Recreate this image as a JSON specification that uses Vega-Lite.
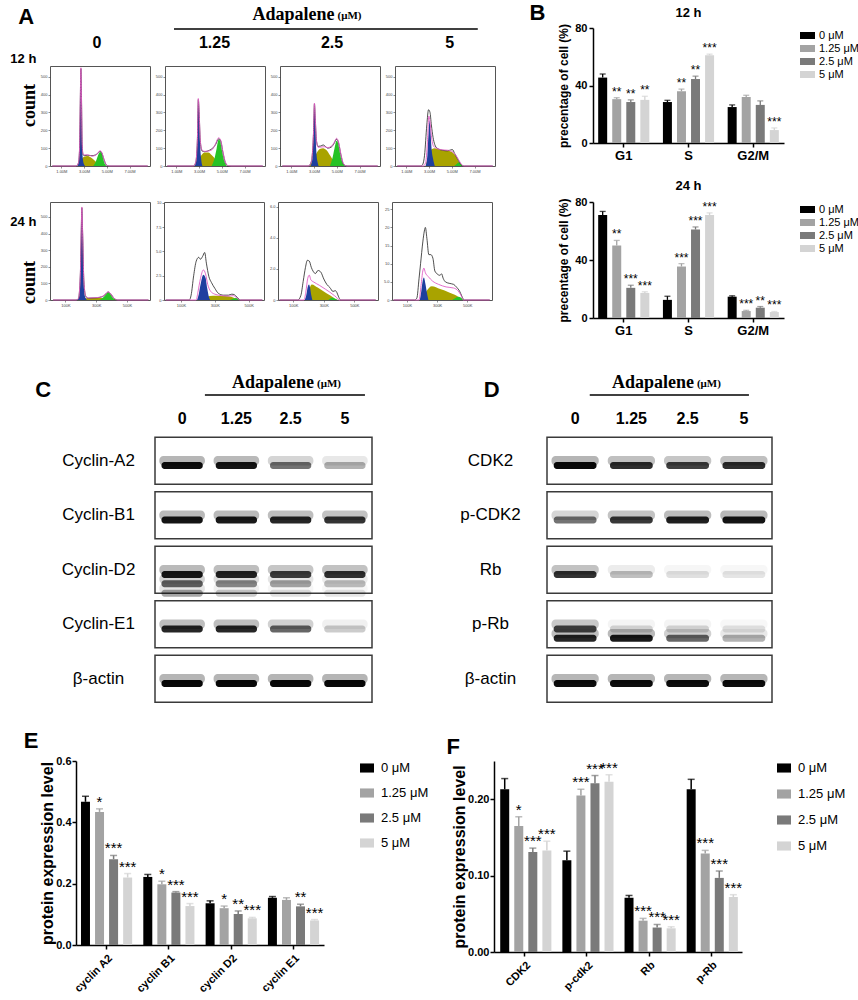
{
  "$schema": "https://vega.github.io/schema/vega-lite/v6.json",
  "background": "white",
  "padding": {"left": 2, "top": 2, "right": 0, "bottom": 0},
  "config": {
    "font": "Liberation Sans",
    "view": {"stroke": null},
    "axis": {"grid": false, "domainColor": "#000", "tickColor": "#000", "labelColor": "#000", "titleColor": "#000", "labelFont": "Liberation Sans", "titleFont": "Liberation Sans", "labelOverlap": false},
    "legend": {"labelColor": "#000", "labelFont": "Liberation Sans"},
    "title": {"color": "#000", "font": "Liberation Sans"},
    "text": {"font": "Liberation Sans", "color": "#000"}
  },
  "datasets": {
    "hdrA": [
      {"k": "letter", "part": "title", "lane": "0", "text": "A"},
      {"k": "letterB", "part": "title", "lane": "5", "text": "B"},
      {"k": "lane", "part": "lanes", "lane": "0", "text": "0"},
      {"k": "lane", "part": "lanes", "lane": "1.25", "text": "1.25"},
      {"k": "lane", "part": "lanes", "lane": "2.5", "text": "2.5"},
      {"k": "lane", "part": "lanes", "lane": "5", "text": "5"},
      {"k": "name", "part": "title", "lane": "2.5", "text": "Adapalene"},
      {"k": "unit", "part": "title", "lane": "2.5", "text": "(μM)"},
      {"k": "rule", "part": "line", "lane": "1.25", "lane2": "5"}
    ],
    "hdrB": [
      {"k": "t", "part": "title", "g": "S", "text": "12 h"}
    ],
    "hdr": [
      {"k": "lane", "row": "hdr", "lane": "0", "text": "0"},
      {"k": "lane", "row": "hdr", "lane": "1.25", "text": "1.25"},
      {"k": "lane", "row": "hdr", "lane": "2.5", "text": "2.5"},
      {"k": "lane", "row": "hdr", "lane": "5", "text": "5"},
      {"k": "name", "row": "hdr", "lane": "2.5", "text": "Adapalene"},
      {"k": "unit", "row": "hdr", "lane": "2.5", "text": "(μM)"},
      {"k": "rule", "row": "hdr", "lane": "0", "lane2": "5"}
    ],
    "framesC": [{"row": "Cyclin-A2"}, {"row": "Cyclin-B1"}, {"row": "Cyclin-D2"}, {"row": "Cyclin-E1"}, {"row": "β-actin"}],
    "framesD": [{"row": "CDK2"}, {"row": "p-CDK2"}, {"row": "Rb"}, {"row": "p-Rb"}, {"row": "β-actin"}],
    "blotC": [
      {"row": "Cyclin-A2", "lane": "0", "sub": "s3", "i": 0.95},
      {"row": "Cyclin-A2", "lane": "1.25", "sub": "s3", "i": 0.92},
      {"row": "Cyclin-A2", "lane": "2.5", "sub": "s3", "i": 0.55},
      {"row": "Cyclin-A2", "lane": "5", "sub": "s3", "i": 0.3},
      {"row": "Cyclin-B1", "lane": "0", "sub": "s3", "i": 0.92},
      {"row": "Cyclin-B1", "lane": "1.25", "sub": "s3", "i": 0.9},
      {"row": "Cyclin-B1", "lane": "2.5", "sub": "s3", "i": 0.85},
      {"row": "Cyclin-B1", "lane": "5", "sub": "s3", "i": 0.8},
      {"row": "Cyclin-D2", "lane": "0", "sub": "s3", "i": 0.9},
      {"row": "Cyclin-D2", "lane": "1.25", "sub": "s3", "i": 0.85},
      {"row": "Cyclin-D2", "lane": "2.5", "sub": "s3", "i": 0.75},
      {"row": "Cyclin-D2", "lane": "5", "sub": "s3", "i": 0.8},
      {"row": "Cyclin-D2", "lane": "0", "sub": "s4", "i": 0.6},
      {"row": "Cyclin-D2", "lane": "1.25", "sub": "s4", "i": 0.45},
      {"row": "Cyclin-D2", "lane": "2.5", "sub": "s4", "i": 0.35},
      {"row": "Cyclin-D2", "lane": "5", "sub": "s4", "i": 0.25},
      {"row": "Cyclin-D2", "lane": "0", "sub": "s5", "i": 0.35},
      {"row": "Cyclin-D2", "lane": "1.25", "sub": "s5", "i": 0.2},
      {"row": "Cyclin-D2", "lane": "2.5", "sub": "s5", "i": 0.12},
      {"row": "Cyclin-D2", "lane": "5", "sub": "s5", "i": 0.1},
      {"row": "Cyclin-E1", "lane": "0", "sub": "s3", "i": 0.85},
      {"row": "Cyclin-E1", "lane": "1.25", "sub": "s3", "i": 0.85},
      {"row": "Cyclin-E1", "lane": "2.5", "sub": "s3", "i": 0.6},
      {"row": "Cyclin-E1", "lane": "5", "sub": "s3", "i": 0.2},
      {"row": "β-actin", "lane": "0", "sub": "s3", "i": 0.97},
      {"row": "β-actin", "lane": "1.25", "sub": "s3", "i": 0.97},
      {"row": "β-actin", "lane": "2.5", "sub": "s3", "i": 0.97},
      {"row": "β-actin", "lane": "5", "sub": "s3", "i": 0.97}
    ],
    "blotD": [
      {"row": "CDK2", "lane": "0", "sub": "s3", "i": 0.97},
      {"row": "CDK2", "lane": "1.25", "sub": "s3", "i": 0.82},
      {"row": "CDK2", "lane": "2.5", "sub": "s3", "i": 0.75},
      {"row": "CDK2", "lane": "5", "sub": "s3", "i": 0.82},
      {"row": "p-CDK2", "lane": "0", "sub": "s3", "i": 0.55},
      {"row": "p-CDK2", "lane": "1.25", "sub": "s3", "i": 0.78},
      {"row": "p-CDK2", "lane": "2.5", "sub": "s3", "i": 0.88},
      {"row": "p-CDK2", "lane": "5", "sub": "s3", "i": 0.92},
      {"row": "Rb", "lane": "0", "sub": "s3", "i": 0.8},
      {"row": "Rb", "lane": "1.25", "sub": "s3", "i": 0.25},
      {"row": "Rb", "lane": "2.5", "sub": "s3", "i": 0.12},
      {"row": "Rb", "lane": "5", "sub": "s3", "i": 0.1},
      {"row": "p-Rb", "lane": "0", "sub": "s3", "i": 0.7},
      {"row": "p-Rb", "lane": "1.25", "sub": "s3", "i": 0.15},
      {"row": "p-Rb", "lane": "2.5", "sub": "s3", "i": 0.15},
      {"row": "p-Rb", "lane": "5", "sub": "s3", "i": 0.1},
      {"row": "p-Rb", "lane": "0", "sub": "s4", "i": 0.85},
      {"row": "p-Rb", "lane": "1.25", "sub": "s4", "i": 0.9},
      {"row": "p-Rb", "lane": "2.5", "sub": "s4", "i": 0.6},
      {"row": "p-Rb", "lane": "5", "sub": "s4", "i": 0.3},
      {"row": "β-actin", "lane": "0", "sub": "s3", "i": 0.95},
      {"row": "β-actin", "lane": "1.25", "sub": "s3", "i": 0.95},
      {"row": "β-actin", "lane": "2.5", "sub": "s3", "i": 0.95},
      {"row": "β-actin", "lane": "5", "sub": "s3", "i": 0.95}
    ],
    "bars": [
      {"t": "12 h", "g": "G1", "d": "0 μM", "v": 45.5, "hi": 48, "sig": ""},
      {"t": "12 h", "g": "G1", "d": "1.25 μM", "v": 30.5, "hi": 31.5, "sig": "**"},
      {"t": "12 h", "g": "G1", "d": "2.5 μM", "v": 28.5, "hi": 30, "sig": "**"},
      {"t": "12 h", "g": "G1", "d": "5 μM", "v": 30, "hi": 32.5, "sig": "**"},
      {"t": "12 h", "g": "S", "d": "0 μM", "v": 28.5, "hi": 29.7, "sig": ""},
      {"t": "12 h", "g": "S", "d": "1.25 μM", "v": 36, "hi": 37.5, "sig": "**"},
      {"t": "12 h", "g": "S", "d": "2.5 μM", "v": 44.5, "hi": 46.5, "sig": "**"},
      {"t": "12 h", "g": "S", "d": "5 μM", "v": 61, "hi": 61.8, "sig": "***"},
      {"t": "12 h", "g": "G2/M", "d": "0 μM", "v": 25, "hi": 26.5, "sig": ""},
      {"t": "12 h", "g": "G2/M", "d": "1.25 μM", "v": 32, "hi": 33.2, "sig": ""},
      {"t": "12 h", "g": "G2/M", "d": "2.5 μM", "v": 26.5, "hi": 29.3, "sig": ""},
      {"t": "12 h", "g": "G2/M", "d": "5 μM", "v": 9, "hi": 10.5, "sig": "***"},
      {"t": "24 h", "g": "G1", "d": "0 μM", "v": 71, "hi": 73.5, "sig": ""},
      {"t": "24 h", "g": "G1", "d": "1.25 μM", "v": 50, "hi": 53.5, "sig": "**"},
      {"t": "24 h", "g": "G1", "d": "2.5 μM", "v": 20.8, "hi": 22.6, "sig": "***"},
      {"t": "24 h", "g": "G1", "d": "5 μM", "v": 17.3, "hi": 18.1, "sig": "***"},
      {"t": "24 h", "g": "S", "d": "0 μM", "v": 12.5, "hi": 15, "sig": ""},
      {"t": "24 h", "g": "S", "d": "1.25 μM", "v": 35.5, "hi": 37.5, "sig": "***"},
      {"t": "24 h", "g": "S", "d": "2.5 μM", "v": 61, "hi": 62.8, "sig": "***"},
      {"t": "24 h", "g": "S", "d": "5 μM", "v": 71, "hi": 72.5, "sig": "***"},
      {"t": "24 h", "g": "G2/M", "d": "0 μM", "v": 14.7, "hi": 15.3, "sig": ""},
      {"t": "24 h", "g": "G2/M", "d": "1.25 μM", "v": 4.8, "hi": 5.3, "sig": "***"},
      {"t": "24 h", "g": "G2/M", "d": "2.5 μM", "v": 7.1, "hi": 7.9, "sig": "**"},
      {"t": "24 h", "g": "G2/M", "d": "5 μM", "v": 4.1, "hi": 4.5, "sig": "***"}
    ],
    "e": [
      {"g": "cyclin A2", "d": "0 μM", "v": 0.467, "hi": 0.485, "sig": ""},
      {"g": "cyclin A2", "d": "1.25 μM", "v": 0.434, "hi": 0.444, "sig": "*"},
      {"g": "cyclin A2", "d": "2.5 μM", "v": 0.28, "hi": 0.292, "sig": "***"},
      {"g": "cyclin A2", "d": "5 μM", "v": 0.22, "hi": 0.233, "sig": "***"},
      {"g": "cyclin B1", "d": "0 μM", "v": 0.222, "hi": 0.23, "sig": ""},
      {"g": "cyclin B1", "d": "1.25 μM", "v": 0.198, "hi": 0.208, "sig": "*"},
      {"g": "cyclin B1", "d": "2.5 μM", "v": 0.171, "hi": 0.174, "sig": "***"},
      {"g": "cyclin B1", "d": "5 μM", "v": 0.127, "hi": 0.135, "sig": "***"},
      {"g": "cyclin D2", "d": "0 μM", "v": 0.136, "hi": 0.144, "sig": ""},
      {"g": "cyclin D2", "d": "1.25 μM", "v": 0.12, "hi": 0.127, "sig": "*"},
      {"g": "cyclin D2", "d": "2.5 μM", "v": 0.101, "hi": 0.111, "sig": "**"},
      {"g": "cyclin D2", "d": "5 μM", "v": 0.087, "hi": 0.09, "sig": "***"},
      {"g": "cyclin E1", "d": "0 μM", "v": 0.154, "hi": 0.158, "sig": ""},
      {"g": "cyclin E1", "d": "1.25 μM", "v": 0.147, "hi": 0.154, "sig": ""},
      {"g": "cyclin E1", "d": "2.5 μM", "v": 0.126, "hi": 0.133, "sig": "**"},
      {"g": "cyclin E1", "d": "5 μM", "v": 0.08, "hi": 0.083, "sig": "***"}
    ],
    "f": [
      {"g": "CDK2", "d": "0 μM", "v": 0.213, "hi": 0.227, "sig": ""},
      {"g": "CDK2", "d": "1.25 μM", "v": 0.165, "hi": 0.177, "sig": "*"},
      {"g": "CDK2", "d": "2.5 μM", "v": 0.131, "hi": 0.136, "sig": "***"},
      {"g": "CDK2", "d": "5 μM", "v": 0.133, "hi": 0.145, "sig": "***"},
      {"g": "p-cdk2", "d": "0 μM", "v": 0.12, "hi": 0.132, "sig": ""},
      {"g": "p-cdk2", "d": "1.25 μM", "v": 0.205, "hi": 0.213, "sig": "***"},
      {"g": "p-cdk2", "d": "2.5 μM", "v": 0.221, "hi": 0.231, "sig": "***"},
      {"g": "p-cdk2", "d": "5 μM", "v": 0.223, "hi": 0.232, "sig": "***"},
      {"g": "Rb", "d": "0 μM", "v": 0.071, "hi": 0.074, "sig": ""},
      {"g": "Rb", "d": "1.25 μM", "v": 0.041, "hi": 0.044, "sig": "***"},
      {"g": "Rb", "d": "2.5 μM", "v": 0.032, "hi": 0.036, "sig": "***"},
      {"g": "Rb", "d": "5 μM", "v": 0.031, "hi": 0.033, "sig": "***"},
      {"g": "p-Rb", "d": "0 μM", "v": 0.213, "hi": 0.226, "sig": ""},
      {"g": "p-Rb", "d": "1.25 μM", "v": 0.129, "hi": 0.133, "sig": "***"},
      {"g": "p-Rb", "d": "2.5 μM", "v": 0.097, "hi": 0.106, "sig": "***"},
      {"g": "p-Rb", "d": "5 μM", "v": 0.072, "hi": 0.075, "sig": "***"}
    ],
    "hist": [
      {"p": "a1", "s": "olive", "x": 2.45, "y": 0}, {"p": "a1", "s": "olive", "x": 2.7, "y": 30}, {"p": "a1", "s": "olive", "x": 3.0, "y": 52}, {"p": "a1", "s": "olive", "x": 3.3, "y": 56}, {"p": "a1", "s": "olive", "x": 3.6, "y": 48}, {"p": "a1", "s": "olive", "x": 3.9, "y": 32}, {"p": "a1", "s": "olive", "x": 4.2, "y": 14}, {"p": "a1", "s": "olive", "x": 4.5, "y": 3}, {"p": "a1", "s": "olive", "x": 4.7, "y": 0},
      {"p": "a1", "s": "blue", "x": 2.4, "y": 0}, {"p": "a1", "s": "blue", "x": 2.52, "y": 15}, {"p": "a1", "s": "blue", "x": 2.6, "y": 90}, {"p": "a1", "s": "blue", "x": 2.66, "y": 330}, {"p": "a1", "s": "blue", "x": 2.72, "y": 540}, {"p": "a1", "s": "blue", "x": 2.77, "y": 380}, {"p": "a1", "s": "blue", "x": 2.83, "y": 110}, {"p": "a1", "s": "blue", "x": 2.9, "y": 35}, {"p": "a1", "s": "blue", "x": 3.0, "y": 8}, {"p": "a1", "s": "blue", "x": 3.1, "y": 0},
      {"p": "a1", "s": "green", "x": 3.8, "y": 0}, {"p": "a1", "s": "green", "x": 4.0, "y": 20}, {"p": "a1", "s": "green", "x": 4.2, "y": 55}, {"p": "a1", "s": "green", "x": 4.4, "y": 78}, {"p": "a1", "s": "green", "x": 4.55, "y": 70}, {"p": "a1", "s": "green", "x": 4.7, "y": 35}, {"p": "a1", "s": "green", "x": 4.85, "y": 8}, {"p": "a1", "s": "green", "x": 5.0, "y": 0},
      {"p": "a1", "s": "black", "x": 0.2, "y": 0}, {"p": "a1", "s": "black", "x": 2.3, "y": 0}, {"p": "a1", "s": "black", "x": 2.5, "y": 15}, {"p": "a1", "s": "black", "x": 2.6, "y": 90}, {"p": "a1", "s": "black", "x": 2.66, "y": 335}, {"p": "a1", "s": "black", "x": 2.72, "y": 545}, {"p": "a1", "s": "black", "x": 2.77, "y": 385}, {"p": "a1", "s": "black", "x": 2.83, "y": 120}, {"p": "a1", "s": "black", "x": 2.9, "y": 66}, {"p": "a1", "s": "black", "x": 3.0, "y": 58}, {"p": "a1", "s": "black", "x": 3.3, "y": 60}, {"p": "a1", "s": "black", "x": 3.7, "y": 58}, {"p": "a1", "s": "black", "x": 4.0, "y": 62}, {"p": "a1", "s": "black", "x": 4.2, "y": 70}, {"p": "a1", "s": "black", "x": 4.4, "y": 82}, {"p": "a1", "s": "black", "x": 4.55, "y": 74}, {"p": "a1", "s": "black", "x": 4.75, "y": 36}, {"p": "a1", "s": "black", "x": 4.95, "y": 6}, {"p": "a1", "s": "black", "x": 5.2, "y": 0}, {"p": "a1", "s": "black", "x": 8.6, "y": 0},
      {"p": "a1", "s": "pink", "x": 0.2, "y": 0}, {"p": "a1", "s": "pink", "x": 2.3, "y": 0}, {"p": "a1", "s": "pink", "x": 2.5, "y": 18}, {"p": "a1", "s": "pink", "x": 2.6, "y": 95}, {"p": "a1", "s": "pink", "x": 2.66, "y": 340}, {"p": "a1", "s": "pink", "x": 2.72, "y": 550}, {"p": "a1", "s": "pink", "x": 2.77, "y": 390}, {"p": "a1", "s": "pink", "x": 2.83, "y": 125}, {"p": "a1", "s": "pink", "x": 2.9, "y": 70}, {"p": "a1", "s": "pink", "x": 3.0, "y": 62}, {"p": "a1", "s": "pink", "x": 3.3, "y": 63}, {"p": "a1", "s": "pink", "x": 3.7, "y": 55}, {"p": "a1", "s": "pink", "x": 4.0, "y": 60}, {"p": "a1", "s": "pink", "x": 4.2, "y": 73}, {"p": "a1", "s": "pink", "x": 4.4, "y": 86}, {"p": "a1", "s": "pink", "x": 4.55, "y": 77}, {"p": "a1", "s": "pink", "x": 4.75, "y": 38}, {"p": "a1", "s": "pink", "x": 4.95, "y": 8}, {"p": "a1", "s": "pink", "x": 5.2, "y": 0}, {"p": "a1", "s": "pink", "x": 8.6, "y": 0},

      {"p": "a2", "s": "olive", "x": 2.6, "y": 0}, {"p": "a2", "s": "olive", "x": 2.9, "y": 25}, {"p": "a2", "s": "olive", "x": 3.2, "y": 60}, {"p": "a2", "s": "olive", "x": 3.5, "y": 76}, {"p": "a2", "s": "olive", "x": 3.8, "y": 76}, {"p": "a2", "s": "olive", "x": 4.1, "y": 62}, {"p": "a2", "s": "olive", "x": 4.4, "y": 40}, {"p": "a2", "s": "olive", "x": 4.7, "y": 15}, {"p": "a2", "s": "olive", "x": 5.0, "y": 0},
      {"p": "a2", "s": "blue", "x": 2.6, "y": 0}, {"p": "a2", "s": "blue", "x": 2.75, "y": 30}, {"p": "a2", "s": "blue", "x": 2.85, "y": 150}, {"p": "a2", "s": "blue", "x": 2.93, "y": 370}, {"p": "a2", "s": "blue", "x": 3.0, "y": 300}, {"p": "a2", "s": "blue", "x": 3.08, "y": 130}, {"p": "a2", "s": "blue", "x": 3.18, "y": 40}, {"p": "a2", "s": "blue", "x": 3.3, "y": 0},
      {"p": "a2", "s": "green", "x": 4.1, "y": 0}, {"p": "a2", "s": "green", "x": 4.35, "y": 40}, {"p": "a2", "s": "green", "x": 4.55, "y": 100}, {"p": "a2", "s": "green", "x": 4.72, "y": 148}, {"p": "a2", "s": "green", "x": 4.85, "y": 140}, {"p": "a2", "s": "green", "x": 5.0, "y": 90}, {"p": "a2", "s": "green", "x": 5.2, "y": 30}, {"p": "a2", "s": "green", "x": 5.45, "y": 0},
      {"p": "a2", "s": "black", "x": 0.2, "y": 0}, {"p": "a2", "s": "black", "x": 2.5, "y": 0}, {"p": "a2", "s": "black", "x": 2.7, "y": 18}, {"p": "a2", "s": "black", "x": 2.85, "y": 145}, {"p": "a2", "s": "black", "x": 2.93, "y": 372}, {"p": "a2", "s": "black", "x": 3.0, "y": 305}, {"p": "a2", "s": "black", "x": 3.1, "y": 145}, {"p": "a2", "s": "black", "x": 3.25, "y": 85}, {"p": "a2", "s": "black", "x": 3.5, "y": 80}, {"p": "a2", "s": "black", "x": 3.9, "y": 88}, {"p": "a2", "s": "black", "x": 4.2, "y": 100}, {"p": "a2", "s": "black", "x": 4.45, "y": 120}, {"p": "a2", "s": "black", "x": 4.72, "y": 152}, {"p": "a2", "s": "black", "x": 4.9, "y": 140}, {"p": "a2", "s": "black", "x": 5.1, "y": 75}, {"p": "a2", "s": "black", "x": 5.3, "y": 20}, {"p": "a2", "s": "black", "x": 5.55, "y": 0}, {"p": "a2", "s": "black", "x": 8.6, "y": 0},
      {"p": "a2", "s": "pink", "x": 0.2, "y": 0}, {"p": "a2", "s": "pink", "x": 2.5, "y": 0}, {"p": "a2", "s": "pink", "x": 2.7, "y": 20}, {"p": "a2", "s": "pink", "x": 2.85, "y": 150}, {"p": "a2", "s": "pink", "x": 2.93, "y": 378}, {"p": "a2", "s": "pink", "x": 3.0, "y": 310}, {"p": "a2", "s": "pink", "x": 3.1, "y": 150}, {"p": "a2", "s": "pink", "x": 3.25, "y": 90}, {"p": "a2", "s": "pink", "x": 3.5, "y": 82}, {"p": "a2", "s": "pink", "x": 3.9, "y": 85}, {"p": "a2", "s": "pink", "x": 4.2, "y": 95}, {"p": "a2", "s": "pink", "x": 4.45, "y": 125}, {"p": "a2", "s": "pink", "x": 4.72, "y": 158}, {"p": "a2", "s": "pink", "x": 4.9, "y": 145}, {"p": "a2", "s": "pink", "x": 5.1, "y": 80}, {"p": "a2", "s": "pink", "x": 5.3, "y": 25}, {"p": "a2", "s": "pink", "x": 5.55, "y": 2}, {"p": "a2", "s": "pink", "x": 5.8, "y": 0}, {"p": "a2", "s": "pink", "x": 8.6, "y": 0},

      {"p": "a3", "s": "olive", "x": 2.6, "y": 0}, {"p": "a3", "s": "olive", "x": 2.9, "y": 30}, {"p": "a3", "s": "olive", "x": 3.2, "y": 70}, {"p": "a3", "s": "olive", "x": 3.5, "y": 95}, {"p": "a3", "s": "olive", "x": 3.8, "y": 100}, {"p": "a3", "s": "olive", "x": 4.1, "y": 88}, {"p": "a3", "s": "olive", "x": 4.4, "y": 60}, {"p": "a3", "s": "olive", "x": 4.7, "y": 30}, {"p": "a3", "s": "olive", "x": 5.0, "y": 8}, {"p": "a3", "s": "olive", "x": 5.2, "y": 0},
      {"p": "a3", "s": "blue", "x": 2.7, "y": 0}, {"p": "a3", "s": "blue", "x": 2.85, "y": 40}, {"p": "a3", "s": "blue", "x": 2.95, "y": 180}, {"p": "a3", "s": "blue", "x": 3.03, "y": 345}, {"p": "a3", "s": "blue", "x": 3.1, "y": 260}, {"p": "a3", "s": "blue", "x": 3.18, "y": 100}, {"p": "a3", "s": "blue", "x": 3.3, "y": 25}, {"p": "a3", "s": "blue", "x": 3.4, "y": 0},
      {"p": "a3", "s": "green", "x": 4.4, "y": 0}, {"p": "a3", "s": "green", "x": 4.6, "y": 40}, {"p": "a3", "s": "green", "x": 4.8, "y": 100}, {"p": "a3", "s": "green", "x": 4.98, "y": 142}, {"p": "a3", "s": "green", "x": 5.1, "y": 130}, {"p": "a3", "s": "green", "x": 5.25, "y": 80}, {"p": "a3", "s": "green", "x": 5.45, "y": 25}, {"p": "a3", "s": "green", "x": 5.7, "y": 0},
      {"p": "a3", "s": "black", "x": 0.2, "y": 0}, {"p": "a3", "s": "black", "x": 2.5, "y": 0}, {"p": "a3", "s": "black", "x": 2.75, "y": 22}, {"p": "a3", "s": "black", "x": 2.95, "y": 185}, {"p": "a3", "s": "black", "x": 3.03, "y": 348}, {"p": "a3", "s": "black", "x": 3.1, "y": 270}, {"p": "a3", "s": "black", "x": 3.2, "y": 145}, {"p": "a3", "s": "black", "x": 3.35, "y": 110}, {"p": "a3", "s": "black", "x": 3.6, "y": 112}, {"p": "a3", "s": "black", "x": 3.8, "y": 118}, {"p": "a3", "s": "black", "x": 3.95, "y": 112}, {"p": "a3", "s": "black", "x": 4.2, "y": 100}, {"p": "a3", "s": "black", "x": 4.5, "y": 105}, {"p": "a3", "s": "black", "x": 4.75, "y": 125}, {"p": "a3", "s": "black", "x": 4.98, "y": 150}, {"p": "a3", "s": "black", "x": 5.15, "y": 130}, {"p": "a3", "s": "black", "x": 5.35, "y": 65}, {"p": "a3", "s": "black", "x": 5.6, "y": 8}, {"p": "a3", "s": "black", "x": 5.9, "y": 0}, {"p": "a3", "s": "black", "x": 8.6, "y": 0},
      {"p": "a3", "s": "pink", "x": 0.2, "y": 0}, {"p": "a3", "s": "pink", "x": 2.5, "y": 0}, {"p": "a3", "s": "pink", "x": 2.75, "y": 25}, {"p": "a3", "s": "pink", "x": 2.95, "y": 190}, {"p": "a3", "s": "pink", "x": 3.03, "y": 352}, {"p": "a3", "s": "pink", "x": 3.1, "y": 275}, {"p": "a3", "s": "pink", "x": 3.2, "y": 150}, {"p": "a3", "s": "pink", "x": 3.35, "y": 105}, {"p": "a3", "s": "pink", "x": 3.6, "y": 106}, {"p": "a3", "s": "pink", "x": 3.9, "y": 108}, {"p": "a3", "s": "pink", "x": 4.2, "y": 103}, {"p": "a3", "s": "pink", "x": 4.5, "y": 110}, {"p": "a3", "s": "pink", "x": 4.75, "y": 130}, {"p": "a3", "s": "pink", "x": 4.98, "y": 155}, {"p": "a3", "s": "pink", "x": 5.15, "y": 135}, {"p": "a3", "s": "pink", "x": 5.35, "y": 70}, {"p": "a3", "s": "pink", "x": 5.6, "y": 12}, {"p": "a3", "s": "pink", "x": 5.9, "y": 0}, {"p": "a3", "s": "pink", "x": 8.6, "y": 0},

      {"p": "a4", "s": "olive", "x": 2.7, "y": 0}, {"p": "a4", "s": "olive", "x": 2.9, "y": 50}, {"p": "a4", "s": "olive", "x": 3.2, "y": 92}, {"p": "a4", "s": "olive", "x": 3.5, "y": 100}, {"p": "a4", "s": "olive", "x": 3.9, "y": 92}, {"p": "a4", "s": "olive", "x": 4.3, "y": 88}, {"p": "a4", "s": "olive", "x": 4.7, "y": 85}, {"p": "a4", "s": "olive", "x": 5.0, "y": 78}, {"p": "a4", "s": "olive", "x": 5.3, "y": 60}, {"p": "a4", "s": "olive", "x": 5.6, "y": 25}, {"p": "a4", "s": "olive", "x": 5.85, "y": 0},
      {"p": "a4", "s": "blue", "x": 2.7, "y": 0}, {"p": "a4", "s": "blue", "x": 2.85, "y": 60}, {"p": "a4", "s": "blue", "x": 2.95, "y": 180}, {"p": "a4", "s": "blue", "x": 3.03, "y": 255}, {"p": "a4", "s": "blue", "x": 3.12, "y": 200}, {"p": "a4", "s": "blue", "x": 3.2, "y": 110}, {"p": "a4", "s": "blue", "x": 3.35, "y": 40}, {"p": "a4", "s": "blue", "x": 3.5, "y": 0},
      {"p": "a4", "s": "green", "x": 5.2, "y": 0}, {"p": "a4", "s": "green", "x": 5.4, "y": 10}, {"p": "a4", "s": "green", "x": 5.6, "y": 20}, {"p": "a4", "s": "green", "x": 5.8, "y": 12}, {"p": "a4", "s": "green", "x": 6.0, "y": 0},
      {"p": "a4", "s": "black", "x": 0.2, "y": 0}, {"p": "a4", "s": "black", "x": 2.3, "y": 0}, {"p": "a4", "s": "black", "x": 2.45, "y": 10}, {"p": "a4", "s": "black", "x": 2.6, "y": 60}, {"p": "a4", "s": "black", "x": 2.8, "y": 230}, {"p": "a4", "s": "black", "x": 2.95, "y": 315}, {"p": "a4", "s": "black", "x": 3.08, "y": 300}, {"p": "a4", "s": "black", "x": 3.2, "y": 230}, {"p": "a4", "s": "black", "x": 3.35, "y": 160}, {"p": "a4", "s": "black", "x": 3.5, "y": 120}, {"p": "a4", "s": "black", "x": 3.7, "y": 100}, {"p": "a4", "s": "black", "x": 4.2, "y": 88}, {"p": "a4", "s": "black", "x": 4.6, "y": 85}, {"p": "a4", "s": "black", "x": 4.9, "y": 90}, {"p": "a4", "s": "black", "x": 5.05, "y": 92}, {"p": "a4", "s": "black", "x": 5.25, "y": 70}, {"p": "a4", "s": "black", "x": 5.5, "y": 40}, {"p": "a4", "s": "black", "x": 5.8, "y": 10}, {"p": "a4", "s": "black", "x": 6.1, "y": 0}, {"p": "a4", "s": "black", "x": 8.6, "y": 0},
      {"p": "a4", "s": "pink", "x": 0.2, "y": 0}, {"p": "a4", "s": "pink", "x": 2.5, "y": 0}, {"p": "a4", "s": "pink", "x": 2.7, "y": 20}, {"p": "a4", "s": "pink", "x": 2.85, "y": 130}, {"p": "a4", "s": "pink", "x": 2.98, "y": 280}, {"p": "a4", "s": "pink", "x": 3.08, "y": 250}, {"p": "a4", "s": "pink", "x": 3.2, "y": 170}, {"p": "a4", "s": "pink", "x": 3.4, "y": 110}, {"p": "a4", "s": "pink", "x": 3.7, "y": 98}, {"p": "a4", "s": "pink", "x": 4.2, "y": 90}, {"p": "a4", "s": "pink", "x": 4.7, "y": 88}, {"p": "a4", "s": "pink", "x": 5.0, "y": 82}, {"p": "a4", "s": "pink", "x": 5.3, "y": 65}, {"p": "a4", "s": "pink", "x": 5.6, "y": 35}, {"p": "a4", "s": "pink", "x": 5.9, "y": 5}, {"p": "a4", "s": "pink", "x": 6.1, "y": 0}, {"p": "a4", "s": "pink", "x": 8.6, "y": 0},

      {"p": "b1", "s": "olive", "x": 200, "y": 0}, {"p": "b1", "s": "olive", "x": 230, "y": 10}, {"p": "b1", "s": "olive", "x": 280, "y": 12}, {"p": "b1", "s": "olive", "x": 330, "y": 12}, {"p": "b1", "s": "olive", "x": 380, "y": 10}, {"p": "b1", "s": "olive", "x": 420, "y": 5}, {"p": "b1", "s": "olive", "x": 440, "y": 0},
      {"p": "b1", "s": "blue", "x": 180, "y": 0}, {"p": "b1", "s": "blue", "x": 192, "y": 30}, {"p": "b1", "s": "blue", "x": 198, "y": 150}, {"p": "b1", "s": "blue", "x": 203, "y": 400}, {"p": "b1", "s": "blue", "x": 207, "y": 550}, {"p": "b1", "s": "blue", "x": 212, "y": 400}, {"p": "b1", "s": "blue", "x": 218, "y": 120}, {"p": "b1", "s": "blue", "x": 226, "y": 25}, {"p": "b1", "s": "blue", "x": 240, "y": 0},
      {"p": "b1", "s": "green", "x": 320, "y": 0}, {"p": "b1", "s": "green", "x": 345, "y": 15}, {"p": "b1", "s": "green", "x": 365, "y": 35}, {"p": "b1", "s": "green", "x": 378, "y": 45}, {"p": "b1", "s": "green", "x": 392, "y": 35}, {"p": "b1", "s": "green", "x": 410, "y": 12}, {"p": "b1", "s": "green", "x": 430, "y": 0},
      {"p": "b1", "s": "black", "x": 20, "y": 0}, {"p": "b1", "s": "black", "x": 170, "y": 0}, {"p": "b1", "s": "black", "x": 185, "y": 8}, {"p": "b1", "s": "black", "x": 197, "y": 145}, {"p": "b1", "s": "black", "x": 203, "y": 405}, {"p": "b1", "s": "black", "x": 207, "y": 555}, {"p": "b1", "s": "black", "x": 212, "y": 405}, {"p": "b1", "s": "black", "x": 220, "y": 115}, {"p": "b1", "s": "black", "x": 232, "y": 22}, {"p": "b1", "s": "black", "x": 250, "y": 11}, {"p": "b1", "s": "black", "x": 300, "y": 13}, {"p": "b1", "s": "black", "x": 340, "y": 20}, {"p": "b1", "s": "black", "x": 365, "y": 38}, {"p": "b1", "s": "black", "x": 378, "y": 48}, {"p": "b1", "s": "black", "x": 395, "y": 36}, {"p": "b1", "s": "black", "x": 415, "y": 11}, {"p": "b1", "s": "black", "x": 440, "y": 0}, {"p": "b1", "s": "black", "x": 640, "y": 0},
      {"p": "b1", "s": "pink", "x": 20, "y": 0}, {"p": "b1", "s": "pink", "x": 170, "y": 0}, {"p": "b1", "s": "pink", "x": 185, "y": 10}, {"p": "b1", "s": "pink", "x": 197, "y": 150}, {"p": "b1", "s": "pink", "x": 203, "y": 410}, {"p": "b1", "s": "pink", "x": 207, "y": 560}, {"p": "b1", "s": "pink", "x": 212, "y": 410}, {"p": "b1", "s": "pink", "x": 220, "y": 120}, {"p": "b1", "s": "pink", "x": 232, "y": 25}, {"p": "b1", "s": "pink", "x": 250, "y": 12}, {"p": "b1", "s": "pink", "x": 300, "y": 14}, {"p": "b1", "s": "pink", "x": 340, "y": 22}, {"p": "b1", "s": "pink", "x": 365, "y": 40}, {"p": "b1", "s": "pink", "x": 378, "y": 50}, {"p": "b1", "s": "pink", "x": 395, "y": 38}, {"p": "b1", "s": "pink", "x": 415, "y": 12}, {"p": "b1", "s": "pink", "x": 440, "y": 0}, {"p": "b1", "s": "pink", "x": 640, "y": 0},

      {"p": "b2", "s": "olive", "x": 215, "y": 0}, {"p": "b2", "s": "olive", "x": 240, "y": 0.2}, {"p": "b2", "s": "olive", "x": 270, "y": 0.4}, {"p": "b2", "s": "olive", "x": 310, "y": 0.45}, {"p": "b2", "s": "olive", "x": 360, "y": 0.4}, {"p": "b2", "s": "olive", "x": 400, "y": 0.3}, {"p": "b2", "s": "olive", "x": 430, "y": 0.1}, {"p": "b2", "s": "olive", "x": 445, "y": 0},
      {"p": "b2", "s": "blue", "x": 195, "y": 0}, {"p": "b2", "s": "blue", "x": 205, "y": 0.6}, {"p": "b2", "s": "blue", "x": 218, "y": 1.8}, {"p": "b2", "s": "blue", "x": 232, "y": 2.6}, {"p": "b2", "s": "blue", "x": 245, "y": 2.3}, {"p": "b2", "s": "blue", "x": 255, "y": 1.2}, {"p": "b2", "s": "blue", "x": 265, "y": 0.3}, {"p": "b2", "s": "blue", "x": 272, "y": 0},
      {"p": "b2", "s": "green", "x": 390, "y": 0}, {"p": "b2", "s": "green", "x": 410, "y": 0.15}, {"p": "b2", "s": "green", "x": 425, "y": 0.2}, {"p": "b2", "s": "green", "x": 440, "y": 0.1}, {"p": "b2", "s": "green", "x": 450, "y": 0},
      {"p": "b2", "s": "black", "x": 10, "y": 0}, {"p": "b2", "s": "black", "x": 150, "y": 0}, {"p": "b2", "s": "black", "x": 160, "y": 0.5}, {"p": "b2", "s": "black", "x": 175, "y": 2.5}, {"p": "b2", "s": "black", "x": 190, "y": 4.0}, {"p": "b2", "s": "black", "x": 205, "y": 4.4}, {"p": "b2", "s": "black", "x": 215, "y": 4.2}, {"p": "b2", "s": "black", "x": 228, "y": 4.5}, {"p": "b2", "s": "black", "x": 240, "y": 4.9}, {"p": "b2", "s": "black", "x": 250, "y": 3.8}, {"p": "b2", "s": "black", "x": 265, "y": 2.4}, {"p": "b2", "s": "black", "x": 280, "y": 1.8}, {"p": "b2", "s": "black", "x": 300, "y": 1.2}, {"p": "b2", "s": "black", "x": 320, "y": 0.7}, {"p": "b2", "s": "black", "x": 350, "y": 0.5}, {"p": "b2", "s": "black", "x": 380, "y": 0.5}, {"p": "b2", "s": "black", "x": 400, "y": 0.6}, {"p": "b2", "s": "black", "x": 415, "y": 0.55}, {"p": "b2", "s": "black", "x": 430, "y": 0.3}, {"p": "b2", "s": "black", "x": 450, "y": 0}, {"p": "b2", "s": "black", "x": 580, "y": 0},
      {"p": "b2", "s": "pink", "x": 10, "y": 0}, {"p": "b2", "s": "pink", "x": 190, "y": 0}, {"p": "b2", "s": "pink", "x": 200, "y": 0.8}, {"p": "b2", "s": "pink", "x": 215, "y": 2.2}, {"p": "b2", "s": "pink", "x": 232, "y": 3.1}, {"p": "b2", "s": "pink", "x": 245, "y": 2.7}, {"p": "b2", "s": "pink", "x": 258, "y": 1.6}, {"p": "b2", "s": "pink", "x": 275, "y": 0.9}, {"p": "b2", "s": "pink", "x": 300, "y": 0.6}, {"p": "b2", "s": "pink", "x": 340, "y": 0.45}, {"p": "b2", "s": "pink", "x": 380, "y": 0.4}, {"p": "b2", "s": "pink", "x": 410, "y": 0.45}, {"p": "b2", "s": "pink", "x": 430, "y": 0.2}, {"p": "b2", "s": "pink", "x": 450, "y": 0}, {"p": "b2", "s": "pink", "x": 580, "y": 0},

      {"p": "b3", "s": "olive", "x": 190, "y": 0}, {"p": "b3", "s": "olive", "x": 205, "y": 0.7}, {"p": "b3", "s": "olive", "x": 222, "y": 1.0}, {"p": "b3", "s": "olive", "x": 260, "y": 0.8}, {"p": "b3", "s": "olive", "x": 300, "y": 0.55}, {"p": "b3", "s": "olive", "x": 340, "y": 0.3}, {"p": "b3", "s": "olive", "x": 370, "y": 0.1}, {"p": "b3", "s": "olive", "x": 390, "y": 0},
      {"p": "b3", "s": "blue", "x": 175, "y": 0}, {"p": "b3", "s": "blue", "x": 185, "y": 0.3}, {"p": "b3", "s": "blue", "x": 195, "y": 0.85}, {"p": "b3", "s": "blue", "x": 203, "y": 1.0}, {"p": "b3", "s": "blue", "x": 210, "y": 0.8}, {"p": "b3", "s": "blue", "x": 218, "y": 0.3}, {"p": "b3", "s": "blue", "x": 225, "y": 0},
      {"p": "b3", "s": "green", "x": 330, "y": 0}, {"p": "b3", "s": "green", "x": 345, "y": 0.12}, {"p": "b3", "s": "green", "x": 360, "y": 0.15}, {"p": "b3", "s": "green", "x": 375, "y": 0.08}, {"p": "b3", "s": "green", "x": 390, "y": 0},
      {"p": "b3", "s": "black", "x": 10, "y": 0}, {"p": "b3", "s": "black", "x": 130, "y": 0}, {"p": "b3", "s": "black", "x": 150, "y": 0.3}, {"p": "b3", "s": "black", "x": 165, "y": 1.2}, {"p": "b3", "s": "black", "x": 180, "y": 2.1}, {"p": "b3", "s": "black", "x": 192, "y": 2.55}, {"p": "b3", "s": "black", "x": 205, "y": 2.5}, {"p": "b3", "s": "black", "x": 218, "y": 2.1}, {"p": "b3", "s": "black", "x": 230, "y": 1.85}, {"p": "b3", "s": "black", "x": 245, "y": 1.7}, {"p": "b3", "s": "black", "x": 262, "y": 1.9}, {"p": "b3", "s": "black", "x": 280, "y": 1.8}, {"p": "b3", "s": "black", "x": 300, "y": 1.35}, {"p": "b3", "s": "black", "x": 320, "y": 1.0}, {"p": "b3", "s": "black", "x": 340, "y": 0.8}, {"p": "b3", "s": "black", "x": 360, "y": 0.55}, {"p": "b3", "s": "black", "x": 375, "y": 0.6}, {"p": "b3", "s": "black", "x": 385, "y": 0.5}, {"p": "b3", "s": "black", "x": 395, "y": 0.25}, {"p": "b3", "s": "black", "x": 410, "y": 0}, {"p": "b3", "s": "black", "x": 640, "y": 0},
      {"p": "b3", "s": "pink", "x": 10, "y": 0}, {"p": "b3", "s": "pink", "x": 170, "y": 0}, {"p": "b3", "s": "pink", "x": 182, "y": 0.5}, {"p": "b3", "s": "pink", "x": 195, "y": 1.4}, {"p": "b3", "s": "pink", "x": 205, "y": 1.6}, {"p": "b3", "s": "pink", "x": 215, "y": 1.3}, {"p": "b3", "s": "pink", "x": 235, "y": 1.15}, {"p": "b3", "s": "pink", "x": 270, "y": 0.95}, {"p": "b3", "s": "pink", "x": 310, "y": 0.7}, {"p": "b3", "s": "pink", "x": 340, "y": 0.5}, {"p": "b3", "s": "pink", "x": 360, "y": 0.35}, {"p": "b3", "s": "pink", "x": 380, "y": 0.2}, {"p": "b3", "s": "pink", "x": 400, "y": 0}, {"p": "b3", "s": "pink", "x": 640, "y": 0},

      {"p": "b4", "s": "olive", "x": 200, "y": 0}, {"p": "b4", "s": "olive", "x": 230, "y": 2.5}, {"p": "b4", "s": "olive", "x": 265, "y": 3.8}, {"p": "b4", "s": "olive", "x": 320, "y": 3.0}, {"p": "b4", "s": "olive", "x": 380, "y": 2.1}, {"p": "b4", "s": "olive", "x": 430, "y": 1.2}, {"p": "b4", "s": "olive", "x": 455, "y": 0.5}, {"p": "b4", "s": "olive", "x": 470, "y": 0},
      {"p": "b4", "s": "blue", "x": 185, "y": 0}, {"p": "b4", "s": "blue", "x": 195, "y": 2.5}, {"p": "b4", "s": "blue", "x": 205, "y": 5.5}, {"p": "b4", "s": "blue", "x": 212, "y": 6.2}, {"p": "b4", "s": "blue", "x": 222, "y": 4.5}, {"p": "b4", "s": "blue", "x": 232, "y": 2}, {"p": "b4", "s": "blue", "x": 242, "y": 0},
      {"p": "b4", "s": "green", "x": 400, "y": 0}, {"p": "b4", "s": "green", "x": 420, "y": 0.5}, {"p": "b4", "s": "green", "x": 440, "y": 0.9}, {"p": "b4", "s": "green", "x": 460, "y": 0.6}, {"p": "b4", "s": "green", "x": 475, "y": 0},
      {"p": "b4", "s": "black", "x": 10, "y": 0}, {"p": "b4", "s": "black", "x": 150, "y": 0}, {"p": "b4", "s": "black", "x": 165, "y": 0.5}, {"p": "b4", "s": "black", "x": 180, "y": 6}, {"p": "b4", "s": "black", "x": 190, "y": 10}, {"p": "b4", "s": "black", "x": 205, "y": 16}, {"p": "b4", "s": "black", "x": 215, "y": 19}, {"p": "b4", "s": "black", "x": 222, "y": 20}, {"p": "b4", "s": "black", "x": 232, "y": 17}, {"p": "b4", "s": "black", "x": 245, "y": 12.5}, {"p": "b4", "s": "black", "x": 258, "y": 12.5}, {"p": "b4", "s": "black", "x": 272, "y": 11.5}, {"p": "b4", "s": "black", "x": 285, "y": 8}, {"p": "b4", "s": "black", "x": 300, "y": 7.2}, {"p": "b4", "s": "black", "x": 318, "y": 6.8}, {"p": "b4", "s": "black", "x": 330, "y": 7.2}, {"p": "b4", "s": "black", "x": 340, "y": 6}, {"p": "b4", "s": "black", "x": 355, "y": 5}, {"p": "b4", "s": "black", "x": 380, "y": 4.6}, {"p": "b4", "s": "black", "x": 410, "y": 4.3}, {"p": "b4", "s": "black", "x": 430, "y": 3.5}, {"p": "b4", "s": "black", "x": 450, "y": 2.4}, {"p": "b4", "s": "black", "x": 465, "y": 1}, {"p": "b4", "s": "black", "x": 480, "y": 0}, {"p": "b4", "s": "black", "x": 650, "y": 0},
      {"p": "b4", "s": "pink", "x": 10, "y": 0}, {"p": "b4", "s": "pink", "x": 180, "y": 0}, {"p": "b4", "s": "pink", "x": 193, "y": 4}, {"p": "b4", "s": "pink", "x": 205, "y": 8}, {"p": "b4", "s": "pink", "x": 212, "y": 8.8}, {"p": "b4", "s": "pink", "x": 222, "y": 7.5}, {"p": "b4", "s": "pink", "x": 240, "y": 6.5}, {"p": "b4", "s": "pink", "x": 270, "y": 5.2}, {"p": "b4", "s": "pink", "x": 310, "y": 4.3}, {"p": "b4", "s": "pink", "x": 360, "y": 3.6}, {"p": "b4", "s": "pink", "x": 410, "y": 3.3}, {"p": "b4", "s": "pink", "x": 440, "y": 2.5}, {"p": "b4", "s": "pink", "x": 460, "y": 1.2}, {"p": "b4", "s": "pink", "x": 475, "y": 0}, {"p": "b4", "s": "pink", "x": 650, "y": 0}
    ]
  },
  "resolve": {"scale": {"color": "independent"}, "legend": {"color": "independent"}},
  "spacing": 36,
  "vconcat": [
    {
      "spacing": 0,
      "resolve": {"scale": {"color": "independent"}, "legend": {"color": "independent"}},
      "hconcat": [
        {"width": 1, "height": 1, "data": {"values": [{}]}, "mark": {"type": "point", "opacity": 0}},
        {
          "spacing": 1,
          "vconcat": [
            {
              "width": 507, "height": 28,
              "data": {"name": "hdrA"},
              "encoding": {
                "y": {"field": "part", "type": "nominal", "scale": {"type": "point", "domain": ["title", "line", "lanes"], "padding": 0}, "axis": null}
              },
              "layer": [
                {
                  "transform": [{"filter": "datum.k == 'lane'"}],
                  "mark": {"type": "text", "fontSize": 16, "fontWeight": "bold", "baseline": "middle"},
                  "encoding": {
                    "x": {"field": "lane", "type": "nominal", "bandPosition": 0.4, "scale": {"domain": ["0", "1.25", "2.5", "5"], "paddingInner": 0, "paddingOuter": 0.157, "align": 0}, "axis": null},
                    "text": {"field": "text"}
                  }
                },
                {
                  "transform": [{"filter": "datum.k == 'letter'"}],
                  "mark": {"type": "text", "fontSize": 22, "fontWeight": "bold", "align": "left", "baseline": "middle", "dy": 2},
                  "encoding": {
                    "x": {"field": "lane", "type": "nominal", "bandPosition": -0.27, "axis": null},
                    "text": {"field": "text"}
                  }
                },
                {
                  "transform": [{"filter": "datum.k == 'letterB'"}],
                  "mark": {"type": "text", "fontSize": 22, "fontWeight": "bold", "align": "left", "baseline": "middle", "dy": -2},
                  "encoding": {
                    "x": {"field": "lane", "type": "nominal", "bandPosition": 1.08, "axis": null},
                    "text": {"field": "text"}
                  }
                },
                {
                  "transform": [{"filter": "datum.k == 'name'"}],
                  "mark": {"type": "text", "font": "Liberation Serif", "fontSize": 18, "fontWeight": "bold", "align": "right", "baseline": "middle", "dx": -1},
                  "encoding": {
                    "x": {"field": "lane", "type": "nominal", "bandPosition": 0.43, "axis": null},
                    "text": {"field": "text"}
                  }
                },
                {
                  "transform": [{"filter": "datum.k == 'unit'"}],
                  "mark": {"type": "text", "font": "Liberation Serif", "fontSize": 11, "fontWeight": "bold", "align": "left", "baseline": "middle", "dx": 2, "dy": 1},
                  "encoding": {
                    "x": {"field": "lane", "type": "nominal", "bandPosition": 0.43, "axis": null},
                    "text": {"field": "text"}
                  }
                },
                {
                  "transform": [{"filter": "datum.k == 'rule'"}],
                  "mark": {"type": "rule", "color": "#000", "strokeWidth": 1.5},
                  "encoding": {
                    "x": {"field": "lane", "type": "nominal", "bandPosition": 0.055, "axis": null},
                    "x2": {"field": "lane2", "bandPosition": 0.64}
                  }
                }
              ]
            },
            {
              "spacing": 26,
              "vconcat": [
                {
                  "spacing": 3,
                  "hconcat": [
                    {
                      "width": 100, "height": 100,
                      "view": {"stroke": "#555", "strokeWidth": 1},
                      "title": {"text": "12 h", "anchor": "start", "frame": "bounds", "fontSize": 13, "fontWeight": "bold", "offset": 0, "dx": -10},
                      "data": {"name": "hist"},
                      "transform": [{"filter": "datum.p == 'a1'"}],
                      "encoding": {
                        "x": {"field": "x", "type": "quantitative", "scale": {"domain": [0, 8.8], "nice": false, "zero": false}, "axis": {"title": null, "values": [1, 3, 5, 7], "labelExpr": "format(datum.value, '.2f') + 'M'", "labelFontSize": 4, "labelColor": "#444", "labelPadding": 1, "tickSize": 2, "tickWidth": 0.6, "tickColor": "#444", "domain": false}},
                        "y": {"field": "y", "type": "quantitative", "scale": {"domain": [0, 560], "nice": false}, "axis": {"title": "count", "titleFont": "Liberation Serif", "titleFontSize": 18, "titleFontWeight": "bold", "titlePadding": 2, "titleY": 39, "values": [0, 100, 200, 300, 400, 500], "labelFontSize": 4, "labelColor": "#444", "labelPadding": 1, "tickSize": 2, "tickWidth": 0.6, "tickColor": "#444", "domain": false}}
                      },
                      "layer": [
                        {"transform": [{"filter": "datum.s == 'olive'"}], "mark": {"type": "area", "color": "#a9a300", "interpolate": "monotone"}},
                        {"transform": [{"filter": "datum.s == 'blue'"}], "mark": {"type": "area", "color": "#1f3f9f", "interpolate": "monotone"}},
                        {"transform": [{"filter": "datum.s == 'green'"}], "mark": {"type": "area", "color": "#26c226", "interpolate": "monotone"}},
                        {"transform": [{"filter": "datum.s == 'black'"}], "mark": {"type": "line", "color": "#222222", "strokeWidth": 0.8, "interpolate": "monotone"}},
                        {"transform": [{"filter": "datum.s == 'pink'"}], "mark": {"type": "line", "color": "#e05ec4", "strokeWidth": 0.9, "interpolate": "monotone"}}
                      ]
                    },
                    {
                      "width": 100, "height": 100,
                      "view": {"stroke": "#555", "strokeWidth": 1},
                      "data": {"name": "hist"},
                      "transform": [{"filter": "datum.p == 'a2'"}],
                      "encoding": {
                        "x": {"field": "x", "type": "quantitative", "scale": {"domain": [0, 8.8], "nice": false, "zero": false}, "axis": {"title": null, "values": [1, 3, 5, 7], "labelExpr": "format(datum.value, '.2f') + 'M'", "labelFontSize": 4, "labelColor": "#444", "labelPadding": 1, "tickSize": 2, "tickWidth": 0.6, "tickColor": "#444", "domain": false}},
                        "y": {"field": "y", "type": "quantitative", "scale": {"domain": [0, 560], "nice": false}, "axis": {"title": null, "values": [0, 100, 200, 300, 400, 500], "labelFontSize": 4, "labelColor": "#444", "labelPadding": 1, "tickSize": 2, "tickWidth": 0.6, "tickColor": "#444", "domain": false}}
                      },
                      "layer": [
                        {"transform": [{"filter": "datum.s == 'olive'"}], "mark": {"type": "area", "color": "#a9a300", "interpolate": "monotone"}},
                        {"transform": [{"filter": "datum.s == 'blue'"}], "mark": {"type": "area", "color": "#1f3f9f", "interpolate": "monotone"}},
                        {"transform": [{"filter": "datum.s == 'green'"}], "mark": {"type": "area", "color": "#26c226", "interpolate": "monotone"}},
                        {"transform": [{"filter": "datum.s == 'black'"}], "mark": {"type": "line", "color": "#222222", "strokeWidth": 0.8, "interpolate": "monotone"}},
                        {"transform": [{"filter": "datum.s == 'pink'"}], "mark": {"type": "line", "color": "#e05ec4", "strokeWidth": 0.9, "interpolate": "monotone"}}
                      ]
                    },
                    {
                      "width": 100, "height": 100,
                      "view": {"stroke": "#555", "strokeWidth": 1},
                      "data": {"name": "hist"},
                      "transform": [{"filter": "datum.p == 'a3'"}],
                      "encoding": {
                        "x": {"field": "x", "type": "quantitative", "scale": {"domain": [0, 8.8], "nice": false, "zero": false}, "axis": {"title": null, "values": [1, 3, 5, 7], "labelExpr": "format(datum.value, '.2f') + 'M'", "labelFontSize": 4, "labelColor": "#444", "labelPadding": 1, "tickSize": 2, "tickWidth": 0.6, "tickColor": "#444", "domain": false}},
                        "y": {"field": "y", "type": "quantitative", "scale": {"domain": [0, 560], "nice": false}, "axis": {"title": null, "values": [0, 100, 200, 300, 400, 500], "labelFontSize": 4, "labelColor": "#444", "labelPadding": 1, "tickSize": 2, "tickWidth": 0.6, "tickColor": "#444", "domain": false}}
                      },
                      "layer": [
                        {"transform": [{"filter": "datum.s == 'olive'"}], "mark": {"type": "area", "color": "#a9a300", "interpolate": "monotone"}},
                        {"transform": [{"filter": "datum.s == 'blue'"}], "mark": {"type": "area", "color": "#1f3f9f", "interpolate": "monotone"}},
                        {"transform": [{"filter": "datum.s == 'green'"}], "mark": {"type": "area", "color": "#26c226", "interpolate": "monotone"}},
                        {"transform": [{"filter": "datum.s == 'black'"}], "mark": {"type": "line", "color": "#222222", "strokeWidth": 0.8, "interpolate": "monotone"}},
                        {"transform": [{"filter": "datum.s == 'pink'"}], "mark": {"type": "line", "color": "#e05ec4", "strokeWidth": 0.9, "interpolate": "monotone"}}
                      ]
                    },
                    {
                      "width": 100, "height": 100,
                      "view": {"stroke": "#555", "strokeWidth": 1},
                      "data": {"name": "hist"},
                      "transform": [{"filter": "datum.p == 'a4'"}],
                      "encoding": {
                        "x": {"field": "x", "type": "quantitative", "scale": {"domain": [0, 8.8], "nice": false, "zero": false}, "axis": {"title": null, "values": [1, 3, 5, 7], "labelExpr": "format(datum.value, '.2f') + 'M'", "labelFontSize": 4, "labelColor": "#444", "labelPadding": 1, "tickSize": 2, "tickWidth": 0.6, "tickColor": "#444", "domain": false}},
                        "y": {"field": "y", "type": "quantitative", "scale": {"domain": [0, 560], "nice": false}, "axis": {"title": null, "values": [0, 100, 200, 300, 400, 500], "labelFontSize": 4, "labelColor": "#444", "labelPadding": 1, "tickSize": 2, "tickWidth": 0.6, "tickColor": "#444", "domain": false}}
                      },
                      "layer": [
                        {"transform": [{"filter": "datum.s == 'olive'"}], "mark": {"type": "area", "color": "#a9a300", "interpolate": "monotone"}},
                        {"transform": [{"filter": "datum.s == 'blue'"}], "mark": {"type": "area", "color": "#1f3f9f", "interpolate": "monotone"}},
                        {"transform": [{"filter": "datum.s == 'green'"}], "mark": {"type": "area", "color": "#26c226", "interpolate": "monotone"}},
                        {"transform": [{"filter": "datum.s == 'black'"}], "mark": {"type": "line", "color": "#222222", "strokeWidth": 0.8, "interpolate": "monotone"}},
                        {"transform": [{"filter": "datum.s == 'pink'"}], "mark": {"type": "line", "color": "#e05ec4", "strokeWidth": 0.9, "interpolate": "monotone"}}
                      ]
                    }
                  ]
                },
                {
                  "spacing": 3,
                  "hconcat": [
                    {
                      "width": 100, "height": 98,
                      "view": {"stroke": "#555", "strokeWidth": 1},
                      "title": {"text": "24 h", "anchor": "start", "frame": "bounds", "fontSize": 13, "fontWeight": "bold", "offset": 0, "dx": -10, "dy": 27},
                      "data": {"name": "hist"},
                      "transform": [{"filter": "datum.p == 'b1'"}],
                      "encoding": {
                        "x": {"field": "x", "type": "quantitative", "scale": {"domain": [0, 650], "nice": false, "zero": false}, "axis": {"title": null, "values": [100, 300, 500], "labelExpr": "datum.value + 'K'", "labelFontSize": 4, "labelColor": "#444", "labelPadding": 1, "tickSize": 2, "tickWidth": 0.6, "tickColor": "#444", "domain": false}},
                        "y": {"field": "y", "type": "quantitative", "scale": {"domain": [0, 590], "nice": false}, "axis": {"title": "count", "titleFont": "Liberation Serif", "titleFontSize": 18, "titleFontWeight": "bold", "titlePadding": 2, "titleY": 80, "values": [0, 100, 200, 300, 400, 500], "labelFontSize": 4, "labelColor": "#444", "labelPadding": 1, "tickSize": 2, "tickWidth": 0.6, "tickColor": "#444", "domain": false}}
                      },
                      "layer": [
                        {"transform": [{"filter": "datum.s == 'olive'"}], "mark": {"type": "area", "color": "#a9a300", "interpolate": "monotone"}},
                        {"transform": [{"filter": "datum.s == 'blue'"}], "mark": {"type": "area", "color": "#1f3f9f", "interpolate": "monotone"}},
                        {"transform": [{"filter": "datum.s == 'green'"}], "mark": {"type": "area", "color": "#26c226", "interpolate": "monotone"}},
                        {"transform": [{"filter": "datum.s == 'black'"}], "mark": {"type": "line", "color": "#222222", "strokeWidth": 0.8, "interpolate": "monotone"}},
                        {"transform": [{"filter": "datum.s == 'pink'"}], "mark": {"type": "line", "color": "#e05ec4", "strokeWidth": 0.9, "interpolate": "monotone"}}
                      ]
                    },
                    {
                      "width": 100, "height": 98,
                      "view": {"stroke": "#555", "strokeWidth": 1},
                      "data": {"name": "hist"},
                      "transform": [{"filter": "datum.p == 'b2'"}],
                      "encoding": {
                        "x": {"field": "x", "type": "quantitative", "scale": {"domain": [0, 590], "nice": false, "zero": false}, "axis": {"title": null, "values": [100, 300, 500], "labelExpr": "datum.value + 'K'", "labelFontSize": 4, "labelColor": "#444", "labelPadding": 1, "tickSize": 2, "tickWidth": 0.6, "tickColor": "#444", "domain": false}},
                        "y": {"field": "y", "type": "quantitative", "scale": {"domain": [0, 10.1], "nice": false}, "axis": {"title": null, "values": [0, 2.5, 5, 7.5, 10], "labelExpr": "datum.value == 0 || datum.value == 10 ? datum.value + '' : format(datum.value, '.1f')", "labelFontSize": 4, "labelColor": "#444", "labelPadding": 1, "tickSize": 2, "tickWidth": 0.6, "tickColor": "#444", "domain": false}}
                      },
                      "layer": [
                        {"transform": [{"filter": "datum.s == 'olive'"}], "mark": {"type": "area", "color": "#a9a300", "interpolate": "monotone"}},
                        {"transform": [{"filter": "datum.s == 'blue'"}], "mark": {"type": "area", "color": "#1f3f9f", "interpolate": "monotone"}},
                        {"transform": [{"filter": "datum.s == 'green'"}], "mark": {"type": "area", "color": "#26c226", "interpolate": "monotone"}},
                        {"transform": [{"filter": "datum.s == 'black'"}], "mark": {"type": "line", "color": "#222222", "strokeWidth": 0.8, "interpolate": "monotone"}},
                        {"transform": [{"filter": "datum.s == 'pink'"}], "mark": {"type": "line", "color": "#e05ec4", "strokeWidth": 0.9, "interpolate": "monotone"}}
                      ]
                    },
                    {
                      "width": 100, "height": 98,
                      "view": {"stroke": "#555", "strokeWidth": 1},
                      "data": {"name": "hist"},
                      "transform": [{"filter": "datum.p == 'b3'"}],
                      "encoding": {
                        "x": {"field": "x", "type": "quantitative", "scale": {"domain": [0, 655], "nice": false, "zero": false}, "axis": {"title": null, "values": [100, 300, 500], "labelExpr": "datum.value + 'K'", "labelFontSize": 4, "labelColor": "#444", "labelPadding": 1, "tickSize": 2, "tickWidth": 0.6, "tickColor": "#444", "domain": false}},
                        "y": {"field": "y", "type": "quantitative", "scale": {"domain": [0, 6.3], "nice": false}, "axis": {"title": null, "values": [0, 2, 4, 6], "labelExpr": "datum.value == 0 ? '0' : format(datum.value, '.1f')", "labelFontSize": 4, "labelColor": "#444", "labelPadding": 1, "tickSize": 2, "tickWidth": 0.6, "tickColor": "#444", "domain": false}}
                      },
                      "layer": [
                        {"transform": [{"filter": "datum.s == 'olive'"}], "mark": {"type": "area", "color": "#a9a300", "interpolate": "monotone"}},
                        {"transform": [{"filter": "datum.s == 'blue'"}], "mark": {"type": "area", "color": "#1f3f9f", "interpolate": "monotone"}},
                        {"transform": [{"filter": "datum.s == 'green'"}], "mark": {"type": "area", "color": "#26c226", "interpolate": "monotone"}},
                        {"transform": [{"filter": "datum.s == 'black'"}], "mark": {"type": "line", "color": "#222222", "strokeWidth": 0.8, "interpolate": "monotone"}},
                        {"transform": [{"filter": "datum.s == 'pink'"}], "mark": {"type": "line", "color": "#e05ec4", "strokeWidth": 0.9, "interpolate": "monotone"}}
                      ]
                    },
                    {
                      "width": 100, "height": 98,
                      "view": {"stroke": "#555", "strokeWidth": 1},
                      "data": {"name": "hist"},
                      "transform": [{"filter": "datum.p == 'b4'"}],
                      "encoding": {
                        "x": {"field": "x", "type": "quantitative", "scale": {"domain": [0, 665], "nice": false, "zero": false}, "axis": {"title": null, "values": [100, 300, 500], "labelExpr": "datum.value + 'K'", "labelFontSize": 4, "labelColor": "#444", "labelPadding": 1, "tickSize": 2, "tickWidth": 0.6, "tickColor": "#444", "domain": false}},
                        "y": {"field": "y", "type": "quantitative", "scale": {"domain": [0, 27], "nice": false}, "axis": {"title": null, "values": [0, 5, 10, 15, 20, 25], "labelExpr": "datum.value == 5 ? '5.0' : datum.value + ''", "labelFontSize": 4, "labelColor": "#444", "labelPadding": 1, "tickSize": 2, "tickWidth": 0.6, "tickColor": "#444", "domain": false}}
                      },
                      "layer": [
                        {"transform": [{"filter": "datum.s == 'olive'"}], "mark": {"type": "area", "color": "#a9a300", "interpolate": "monotone"}},
                        {"transform": [{"filter": "datum.s == 'blue'"}], "mark": {"type": "area", "color": "#1f3f9f", "interpolate": "monotone"}},
                        {"transform": [{"filter": "datum.s == 'green'"}], "mark": {"type": "area", "color": "#26c226", "interpolate": "monotone"}},
                        {"transform": [{"filter": "datum.s == 'black'"}], "mark": {"type": "line", "color": "#222222", "strokeWidth": 0.8, "interpolate": "monotone"}},
                        {"transform": [{"filter": "datum.s == 'pink'"}], "mark": {"type": "line", "color": "#e05ec4", "strokeWidth": 0.9, "interpolate": "monotone"}}
                      ]
                    }
                  ]
                }
              ]
            }
          ]
        },
        {
          "spacing": 0,
          "resolve": {"scale": {"color": "independent"}, "legend": {"color": "independent"}},
          "vconcat": [
            {
              "width": 191, "height": 7,
              "data": {"name": "hdrB"},
              "encoding": {
                "x": {"field": "g", "type": "nominal", "scale": {"domain": ["G1", "S", "G2/M"], "paddingInner": 0.21, "paddingOuter": 0.08}, "axis": null},
                "y": {"field": "part", "type": "nominal", "scale": {"type": "point", "domain": ["title", "line", "lanes"], "padding": 0}, "axis": null}
              },
              "mark": {"type": "text", "fontSize": 13, "fontWeight": "bold", "baseline": "middle", "dy": -6},
              "encoding": {"text": {"field": "text"}}
            },
            {
              "spacing": 18,
              "resolve": {"scale": {"color": "independent"}, "legend": {"color": "independent"}},
              "vconcat": [
                {
                  "width": 191, "height": 115,
                  "data": {"name": "bars"},
                  "transform": [{"filter": "datum.t == '12 h'"}],
                  "encoding": {
                    "x": {"field": "g", "type": "nominal", "sort": ["G1", "S", "G2/M"], "scale": {"paddingInner": 0.21, "paddingOuter": 0.08}, "axis": {"title": null, "labelAngle": 0, "labelFontSize": 13, "labelFontWeight": "bold", "labelPadding": 2, "tickSize": 4, "tickWidth": 1.5, "domainWidth": 1.5}},
                    "xOffset": {"field": "d", "type": "nominal", "sort": ["0 μM", "1.25 μM", "2.5 μM", "5 μM"], "scale": {"paddingInner": 0.36, "paddingOuter": 0}}
                  },
                  "layer": [
                    {"mark": {"type": "bar"}, "encoding": {
                      "y": {"field": "v", "type": "quantitative", "scale": {"domain": [0, 80], "nice": false}, "axis": {"title": "precentage of cell (%)", "values": [0, 20, 40, 60, 80], "labelFontSize": 11, "labelFontWeight": "bold", "titleFontSize": 12, "titleFontWeight": "bold", "titlePadding": 4, "tickSize": 4, "tickWidth": 1.5, "domainWidth": 1.5, "labelPadding": 2}},
                      "color": {"field": "d", "type": "nominal", "scale": {"domain": ["0 μM", "1.25 μM", "2.5 μM", "5 μM"], "range": ["#000000", "#a3a3a3", "#7a7a7a", "#d4d4d4"]}, "legend": {"title": null, "offset": 16, "symbolType": "M-1,-0.47H1V0.47H-1Z", "symbolSize": 225, "symbolStrokeWidth": 0, "labelFontSize": 11, "labelOffset": 4, "rowPadding": 0}}}},
                    {"mark": {"type": "rule", "strokeWidth": 1.3}, "encoding": {"y": {"field": "v", "type": "quantitative"}, "y2": {"field": "hi"}, "color": {"field": "d", "type": "nominal", "legend": null}}},
                    {"mark": {"type": "tick", "thickness": 1.3, "size": 6}, "encoding": {"y": {"field": "hi", "type": "quantitative"}, "color": {"field": "d", "type": "nominal", "legend": null}}},
                    {"mark": {"type": "text", "fontSize": 12, "baseline": "alphabetic", "dy": -2}, "encoding": {"y": {"field": "hi", "type": "quantitative"}, "text": {"field": "sig"}}}
                  ]
                },
                {
                  "width": 191, "height": 116,
                  "title": {"text": "24 h", "fontSize": 13, "fontWeight": "bold", "offset": 3, "frame": "group"},
                  "data": {"name": "bars"},
                  "transform": [{"filter": "datum.t == '24 h'"}],
                  "encoding": {
                    "x": {"field": "g", "type": "nominal", "sort": ["G1", "S", "G2/M"], "scale": {"paddingInner": 0.21, "paddingOuter": 0.08}, "axis": {"title": null, "labelAngle": 0, "labelFontSize": 13, "labelFontWeight": "bold", "labelPadding": 2, "tickSize": 4, "tickWidth": 1.5, "domainWidth": 1.5}},
                    "xOffset": {"field": "d", "type": "nominal", "sort": ["0 μM", "1.25 μM", "2.5 μM", "5 μM"], "scale": {"paddingInner": 0.36, "paddingOuter": 0}}
                  },
                  "layer": [
                    {"mark": {"type": "bar"}, "encoding": {
                      "y": {"field": "v", "type": "quantitative", "scale": {"domain": [0, 80], "nice": false}, "axis": {"title": "precentage of cell (%)", "values": [0, 20, 40, 60, 80], "labelFontSize": 11, "labelFontWeight": "bold", "titleFontSize": 12, "titleFontWeight": "bold", "titlePadding": 4, "tickSize": 4, "tickWidth": 1.5, "domainWidth": 1.5, "labelPadding": 2}},
                      "color": {"field": "d", "type": "nominal", "scale": {"domain": ["0 μM", "1.25 μM", "2.5 μM", "5 μM"], "range": ["#000000", "#a3a3a3", "#7a7a7a", "#d4d4d4"]}, "legend": {"title": null, "offset": 16, "symbolType": "M-1,-0.47H1V0.47H-1Z", "symbolSize": 225, "symbolStrokeWidth": 0, "labelFontSize": 11, "labelOffset": 4, "rowPadding": 0}}}},
                    {"mark": {"type": "rule", "strokeWidth": 1.3}, "encoding": {"y": {"field": "v", "type": "quantitative"}, "y2": {"field": "hi"}, "color": {"field": "d", "type": "nominal", "legend": null}}},
                    {"mark": {"type": "tick", "thickness": 1.3, "size": 6}, "encoding": {"y": {"field": "hi", "type": "quantitative"}, "color": {"field": "d", "type": "nominal", "legend": null}}},
                    {"mark": {"type": "text", "fontSize": 12, "baseline": "alphabetic", "dy": -2}, "encoding": {"y": {"field": "hi", "type": "quantitative"}, "text": {"field": "sig"}}}
                  ]
                }
              ]
            }
          ]
        }
      ]
    },
    {
      "spacing": 24,
      "resolve": {"scale": {"color": "independent"}, "legend": {"color": "independent"}},
      "vconcat": [
        {
          "spacing": 0,
          "hconcat": [
            {"width": 30, "height": 1, "data": {"values": [{}]}, "mark": {"type": "point", "opacity": 0}},
            {
              "spacing": 86,
              "hconcat": [
                {
                  "width": 217, "height": 327,
                  "title": {"text": "C", "anchor": "start", "frame": "bounds", "fontSize": 22, "fontWeight": "bold", "dx": -26, "dy": 32},
                  "layer": [
                    {"data": {"name": "framesC"}, "mark": {"type": "rect", "fill": "#ffffff", "stroke": "#3a3a3a", "strokeWidth": 1.5},
                     "encoding": {"y": {"field": "row", "type": "nominal", "scale": {"domain": ["hdr", "Cyclin-A2", "Cyclin-B1", "Cyclin-D2", "Cyclin-E1", "β-actin"], "paddingInner": 0.14, "paddingOuter": 0.07}, "axis": {"title": null, "domain": false, "ticks": false, "labelFont": "Liberation Sans Narrow, Liberation Sans", "labelFontSize": 17, "labelAlign": "center", "labelPadding": 57, "labelExpr": "datum.value == 'hdr' ? '' : datum.value"}}}},
                    {"data": {"name": "blotC"}, "mark": {"type": "bar", "color": "#000", "width": {"band": 0.84}, "height": {"band": 1.0}, "cornerRadius": 4},
                     "encoding": {
                       "x": {"field": "lane", "type": "nominal", "scale": {"domain": ["0", "1.25", "2.5", "5"], "paddingInner": 0, "paddingOuter": 0}, "axis": null},
                       "y": {"field": "row", "type": "nominal"},
                       "yOffset": {"field": "sub", "type": "nominal", "scale": {"domain": ["s1", "s2", "s3", "s4", "s5"], "paddingInner": 0, "paddingOuter": 0}},
                       "fillOpacity": {"field": "i", "type": "quantitative", "scale": {"domain": [0, 1], "range": [0, 0.3]}, "legend": null}}},
                    {"data": {"name": "blotC"}, "mark": {"type": "bar", "color": "#000", "width": {"band": 0.76}, "height": {"band": 0.75}, "cornerRadius": 3},
                     "encoding": {
                       "x": {"field": "lane", "type": "nominal", "axis": null},
                       "y": {"field": "row", "type": "nominal"},
                       "yOffset": {"field": "sub", "type": "nominal"},
                       "opacity": {"field": "i", "type": "quantitative", "scale": {"domain": [0, 1], "range": [0, 1]}, "legend": null}}},
                    {"data": {"name": "hdr"}, "transform": [{"filter": "datum.k == 'lane'"}], "mark": {"type": "text", "fontSize": 16, "fontWeight": "bold", "baseline": "middle"},
                     "encoding": {"x": {"field": "lane", "type": "nominal", "axis": null}, "y": {"field": "row", "type": "nominal", "bandPosition": 0.77}, "text": {"field": "text"}}},
                    {"data": {"name": "hdr"}, "transform": [{"filter": "datum.k == 'name'"}], "mark": {"type": "text", "font": "Liberation Serif", "fontSize": 18, "fontWeight": "bold", "align": "right", "baseline": "middle", "dx": -1},
                     "encoding": {"x": {"field": "lane", "type": "nominal", "bandPosition": 0.95, "axis": null}, "y": {"field": "row", "type": "nominal", "bandPosition": 0}, "text": {"field": "text"}}},
                    {"data": {"name": "hdr"}, "transform": [{"filter": "datum.k == 'unit'"}], "mark": {"type": "text", "font": "Liberation Serif", "fontSize": 11, "fontWeight": "bold", "align": "left", "baseline": "middle", "dx": 2, "dy": 1},
                     "encoding": {"x": {"field": "lane", "type": "nominal", "bandPosition": 0.95, "axis": null}, "y": {"field": "row", "type": "nominal", "bandPosition": 0}, "text": {"field": "text"}}},
                    {"data": {"name": "hdr"}, "transform": [{"filter": "datum.k == 'rule'"}], "mark": {"type": "rule", "color": "#000", "strokeWidth": 1.6},
                     "encoding": {"x": {"field": "lane", "type": "nominal", "bandPosition": 0.92, "axis": null}, "x2": {"field": "lane2", "bandPosition": 0.87}, "y": {"field": "row", "type": "nominal", "bandPosition": 0.26}}}
                  ]
                },
                {
                  "width": 225, "height": 327,
                  "title": {"text": "D", "anchor": "start", "frame": "bounds", "fontSize": 22, "fontWeight": "bold", "dx": 24, "dy": 32},
                  "layer": [
                    {"data": {"name": "framesD"}, "mark": {"type": "rect", "fill": "#ffffff", "stroke": "#3a3a3a", "strokeWidth": 1.5},
                     "encoding": {"y": {"field": "row", "type": "nominal", "scale": {"domain": ["hdr", "CDK2", "p-CDK2", "Rb", "p-Rb", "β-actin"], "paddingInner": 0.14, "paddingOuter": 0.07}, "axis": {"title": null, "domain": false, "ticks": false, "labelFont": "Liberation Sans Narrow, Liberation Sans", "labelFontSize": 17, "labelAlign": "center", "labelPadding": 57, "labelExpr": "datum.value == 'hdr' ? '' : datum.value"}}}},
                    {"data": {"name": "blotD"}, "mark": {"type": "bar", "color": "#000", "width": {"band": 0.84}, "height": {"band": 1.0}, "cornerRadius": 4},
                     "encoding": {
                       "x": {"field": "lane", "type": "nominal", "scale": {"domain": ["0", "1.25", "2.5", "5"], "paddingInner": 0, "paddingOuter": 0}, "axis": null},
                       "y": {"field": "row", "type": "nominal"},
                       "yOffset": {"field": "sub", "type": "nominal", "scale": {"domain": ["s1", "s2", "s3", "s4", "s5"], "paddingInner": 0, "paddingOuter": 0}},
                       "fillOpacity": {"field": "i", "type": "quantitative", "scale": {"domain": [0, 1], "range": [0, 0.3]}, "legend": null}}},
                    {"data": {"name": "blotD"}, "mark": {"type": "bar", "color": "#000", "width": {"band": 0.76}, "height": {"band": 0.75}, "cornerRadius": 3},
                     "encoding": {
                       "x": {"field": "lane", "type": "nominal", "axis": null},
                       "y": {"field": "row", "type": "nominal"},
                       "yOffset": {"field": "sub", "type": "nominal"},
                       "opacity": {"field": "i", "type": "quantitative", "scale": {"domain": [0, 1], "range": [0, 1]}, "legend": null}}},
                    {"data": {"name": "hdr"}, "transform": [{"filter": "datum.k == 'lane'"}], "mark": {"type": "text", "fontSize": 16, "fontWeight": "bold", "baseline": "middle"},
                     "encoding": {"x": {"field": "lane", "type": "nominal", "axis": null}, "y": {"field": "row", "type": "nominal", "bandPosition": 0.77}, "text": {"field": "text"}}},
                    {"data": {"name": "hdr"}, "transform": [{"filter": "datum.k == 'name'"}], "mark": {"type": "text", "font": "Liberation Serif", "fontSize": 18, "fontWeight": "bold", "align": "right", "baseline": "middle", "dx": -1},
                     "encoding": {"x": {"field": "lane", "type": "nominal", "bandPosition": 0.63, "axis": null}, "y": {"field": "row", "type": "nominal", "bandPosition": 0}, "text": {"field": "text"}}},
                    {"data": {"name": "hdr"}, "transform": [{"filter": "datum.k == 'unit'"}], "mark": {"type": "text", "font": "Liberation Serif", "fontSize": 11, "fontWeight": "bold", "align": "left", "baseline": "middle", "dx": 2, "dy": 1},
                     "encoding": {"x": {"field": "lane", "type": "nominal", "bandPosition": 0.63, "axis": null}, "y": {"field": "row", "type": "nominal", "bandPosition": 0}, "text": {"field": "text"}}},
                    {"data": {"name": "hdr"}, "transform": [{"filter": "datum.k == 'rule'"}], "mark": {"type": "rule", "color": "#000", "strokeWidth": 1.6},
                     "encoding": {"x": {"field": "lane", "type": "nominal", "bandPosition": 0.76, "axis": null}, "x2": {"field": "lane2", "bandPosition": 0.59}, "y": {"field": "row", "type": "nominal", "bandPosition": 0.26}}}
                  ]
                }
              ]
            }
          ]
        },
        {
          "spacing": 0,
          "resolve": {"scale": {"color": "independent"}, "legend": {"color": "independent"}},
          "hconcat": [
            {"width": 18, "height": 1, "data": {"values": [{}]}, "mark": {"type": "point", "opacity": 0}},
            {
              "spacing": 17,
              "resolve": {"scale": {"color": "independent"}, "legend": {"color": "independent"}},
              "hconcat": [
                {
                  "width": 248, "height": 184,
                  "title": {"text": "E", "anchor": "start", "frame": "bounds", "fontSize": 22, "fontWeight": "bold", "dx": -16, "offset": 2},
                  "data": {"name": "e"},
                  "encoding": {
                    "x": {"field": "g", "type": "nominal", "sort": ["cyclin A2", "cyclin B1", "cyclin D2", "cyclin E1"], "scale": {"paddingInner": 0.18, "paddingOuter": 0.08}, "axis": {"title": null, "labelAngle": -45, "labelFontSize": 11, "labelFontWeight": "bold", "labelPadding": 3, "tickSize": 4, "tickWidth": 1.5, "domainWidth": 1.5}},
                    "xOffset": {"field": "d", "type": "nominal", "sort": ["0 μM", "1.25 μM", "2.5 μM", "5 μM"], "scale": {"paddingInner": 0.3, "paddingOuter": 0}}
                  },
                  "layer": [
                    {"mark": {"type": "bar"}, "encoding": {
                      "y": {"field": "v", "type": "quantitative", "scale": {"domain": [0, 0.6], "nice": false}, "axis": {"title": "protein expression level", "values": [0, 0.2, 0.4, 0.6], "format": ".1f", "labelFontSize": 11, "labelFontWeight": "bold", "titleFontSize": 16, "titleFontWeight": "bold", "titlePadding": 0, "tickSize": 4, "tickWidth": 1.5, "domainWidth": 1.5, "labelPadding": 1}},
                      "color": {"field": "d", "type": "nominal", "scale": {"domain": ["0 μM", "1.25 μM", "2.5 μM", "5 μM"], "range": ["#000000", "#a3a3a3", "#7a7a7a", "#d4d4d4"]}, "legend": {"title": null, "offset": 36, "symbolType": "M-1,-0.65H1V0.65H-1Z", "symbolSize": 196, "symbolStrokeWidth": 0, "labelFontSize": 13, "labelOffset": 7, "rowPadding": 11}}}},
                    {"mark": {"type": "rule", "strokeWidth": 1.5}, "encoding": {"y": {"field": "v", "type": "quantitative"}, "y2": {"field": "hi"}, "color": {"field": "d", "type": "nominal", "legend": null}}},
                    {"mark": {"type": "tick", "thickness": 1.5, "size": 7}, "encoding": {"y": {"field": "hi", "type": "quantitative"}, "color": {"field": "d", "type": "nominal", "legend": null}}},
                    {"mark": {"type": "text", "fontSize": 15, "baseline": "alphabetic", "dy": -2}, "encoding": {"y": {"field": "hi", "type": "quantitative"}, "text": {"field": "sig"}}}
                  ]
                },
                {
                  "width": 248, "height": 191,
                  "title": {"text": "F", "anchor": "start", "frame": "bounds", "fontSize": 22, "fontWeight": "bold", "dx": -5, "offset": 2},
                  "data": {"name": "f"},
                  "encoding": {
                    "x": {"field": "g", "type": "nominal", "sort": ["CDK2", "p-cdk2", "Rb", "p-Rb"], "scale": {"paddingInner": 0.21, "paddingOuter": 0.1}, "axis": {"title": null, "labelAngle": -45, "labelFontSize": 11, "labelFontWeight": "bold", "labelPadding": 3, "tickSize": 4, "tickWidth": 1.5, "domainWidth": 1.5}},
                    "xOffset": {"field": "d", "type": "nominal", "sort": ["0 μM", "1.25 μM", "2.5 μM", "5 μM"], "scale": {"paddingInner": 0.3, "paddingOuter": 0}}
                  },
                  "layer": [
                    {"mark": {"type": "bar"}, "encoding": {
                      "y": {"field": "v", "type": "quantitative", "scale": {"domain": [0, 0.25], "nice": false}, "axis": {"title": "protein expression level", "values": [0, 0.05, 0.1, 0.15, 0.2, 0.25], "format": ".2f", "labelFontSize": 11, "labelFontWeight": "bold", "titleFontSize": 16, "titleFontWeight": "bold", "titlePadding": 0, "tickSize": 4, "tickWidth": 1.5, "domainWidth": 1.5, "labelPadding": 1}},
                      "color": {"field": "d", "type": "nominal", "scale": {"domain": ["0 μM", "1.25 μM", "2.5 μM", "5 μM"], "range": ["#000000", "#a3a3a3", "#7a7a7a", "#d4d4d4"]}, "legend": {"title": null, "offset": 35, "symbolType": "M-1,-0.65H1V0.65H-1Z", "symbolSize": 196, "symbolStrokeWidth": 0, "labelFontSize": 13, "labelOffset": 7, "rowPadding": 12}}}},
                    {"mark": {"type": "rule", "strokeWidth": 1.5}, "encoding": {"y": {"field": "v", "type": "quantitative"}, "y2": {"field": "hi"}, "color": {"field": "d", "type": "nominal", "legend": null}}},
                    {"mark": {"type": "tick", "thickness": 1.5, "size": 7}, "encoding": {"y": {"field": "hi", "type": "quantitative"}, "color": {"field": "d", "type": "nominal", "legend": null}}},
                    {"mark": {"type": "text", "fontSize": 15, "baseline": "alphabetic", "dy": -2}, "encoding": {"y": {"field": "hi", "type": "quantitative"}, "text": {"field": "sig"}}}
                  ]
                }
              ]
            }
          ]
        }
      ]
    }
  ]
}
